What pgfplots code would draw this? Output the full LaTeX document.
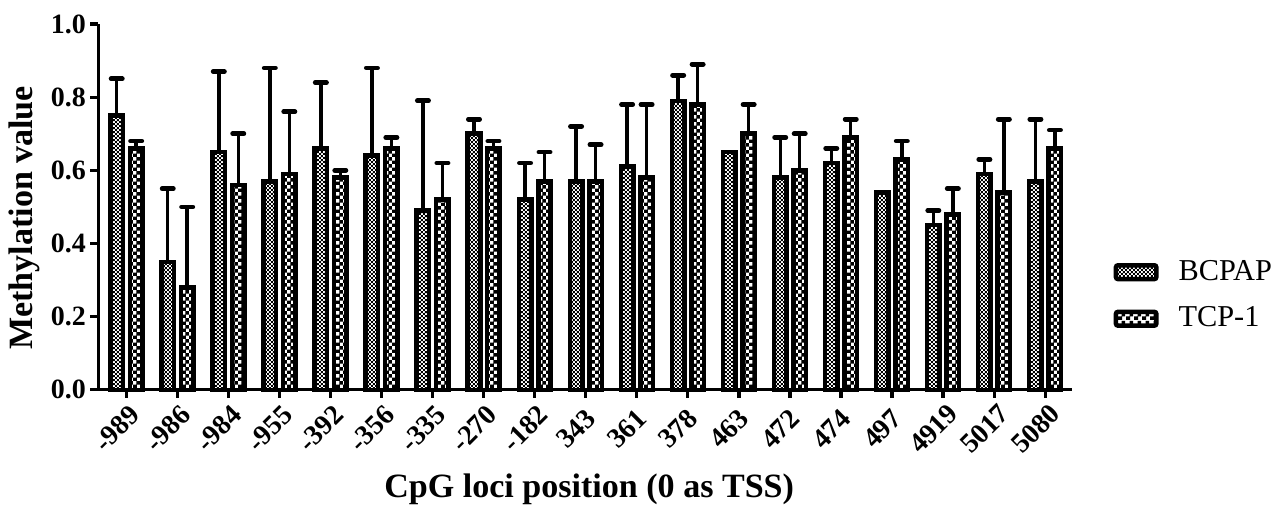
\documentclass[border=0pt]{standalone}
\usepackage{fontspec}
\setmainfont{Liberation Serif}
\usepackage{pgfplots}
\usepackage{pgfplotstable}
\pgfplotsset{compat=1.18}
\usetikzlibrary{patterns}

% fine checkerboard (BCPAP) and coarse checkerboard (TCP-1)
\pgfdeclarepatternformonly{finecheck}{\pgfpointorigin}{\pgfpoint{1.5pt}{1.5pt}}{\pgfpoint{1.5pt}{1.5pt}}{%
  \pgfpathrectangle{\pgfpointorigin}{\pgfpoint{0.75pt}{0.75pt}}%
  \pgfpathrectangle{\pgfpoint{0.75pt}{0.75pt}}{\pgfpoint{0.75pt}{0.75pt}}%
  \pgfusepath{fill}}
\pgfdeclarepatternformonly{coarsecheck}{\pgfpointorigin}{\pgfpoint{2.8pt}{2.8pt}}{\pgfpoint{2.8pt}{2.8pt}}{%
  \pgfpathrectangle{\pgfpointorigin}{\pgfpoint{1.6pt}{1.4pt}}%
  \pgfpathrectangle{\pgfpoint{1.4pt}{1.4pt}}{\pgfpoint{1.4pt}{1.4pt}}%
  \pgfusepath{fill}}

\pgfplotstableread{
x  b    be   t    te
0  0.75 0.10 0.66 0.02
1  0.35 0.20 0.28 0.22
2  0.65 0.22 0.56 0.14
3  0.57 0.31 0.59 0.17
4  0.66 0.18 0.58 0.02
5  0.64 0.24 0.66 0.03
6  0.49 0.30 0.52 0.10
7  0.70 0.04 0.66 0.02
8  0.52 0.10 0.57 0.08
9  0.57 0.15 0.57 0.10
10 0.61 0.17 0.58 0.20
11 0.79 0.07 0.78 0.11
12 0.65 0.00 0.70 0.08
13 0.58 0.11 0.60 0.10
14 0.62 0.04 0.69 0.05
15 0.54 0.00 0.63 0.05
16 0.45 0.04 0.48 0.07
17 0.59 0.04 0.54 0.20
18 0.57 0.17 0.66 0.05
}\data

\pgfplotsset{
  errs/.style={
    error bars/.cd, y dir=plus, y explicit,
    error bar style={line width=1.3pt, black},
    error mark=-,
    error mark options={rotate=90, line width=1.8pt, mark size=2.1pt, black, line cap=round}},
  swatch/.style={legend image code/.code={
    \draw[##1, line width=1.7pt, rounded corners=0.8pt] (0pt,-2.6pt) rectangle (15.2pt,2.6pt);}},
}

\begin{document}
\begin{tikzpicture}
\begin{axis}[
    scale only axis,
    width=366pt, height=137.5pt,
    xmin=-0.55, xmax=18.53,
    ymin=0, ymax=1,
    ybar=2.62pt, bar width=4.7pt,
    axis x line*=bottom, axis y line*=left,
    axis line style={-, line width=1.2pt, black},
    tick align=outside,
    major tick length=3pt,
    tick style={line width=1.2pt, black},
    xtick={0,...,18},
    xticklabels={-989,-986,-984,-955,-392,-356,-335,-270,-182,343,361,378,463,472,474,497,4919,5017,5080},
    ytick={0,0.2,0.4,0.6,0.8,1.0},
    yticklabels={0.0,0.2,0.4,0.6,0.8,1.0},
    ticklabel style={font=\fontsize{10.5}{12}\selectfont\bfseries},
    xticklabel style={anchor=center, xshift=-3.6pt, yshift=-11.6pt, rotate=45},
    yticklabel style={inner sep=1.5pt},
    ylabel={Methylation value},
    xlabel={CpG loci position (0 as TSS)},
    label style={font=\fontsize{12.8}{15}\selectfont\bfseries},
    ylabel style={at={(rel axis cs:-0.076,0.47)}, anchor=center},
    xlabel style={at={(rel axis cs:0.504,-0.273)}, anchor=center},
    legend style={at={(1.042,0.258)}, anchor=west, draw=none, fill=none,
      inner xsep=0pt, inner ysep=0pt,
      font=\fontsize{11.4}{13}\selectfont, row sep=5.5pt,
      nodes={inner sep=1pt, text height=8pt, text depth=2pt},
      /tikz/every odd column/.append style={column sep=6.5pt}},
    legend cell align=left,
    clip=false,
]
\addplot[draw=black, line width=1.7pt, pattern=finecheck, pattern color=black, swatch, errs]
  table[x=x, y=b, y error=be] {\data};
\addlegendentry{BCPAP}
\addplot[draw=black, line width=1.7pt, pattern=coarsecheck, pattern color=black, swatch, errs]
  table[x=x, y=t, y error=te] {\data};
\addlegendentry{TCP-1}
\path (rel axis cs:-0.0995,-0.317) rectangle (rel axis cs:1.2113,1.0656);
\end{axis}
\end{tikzpicture}
\end{document}
